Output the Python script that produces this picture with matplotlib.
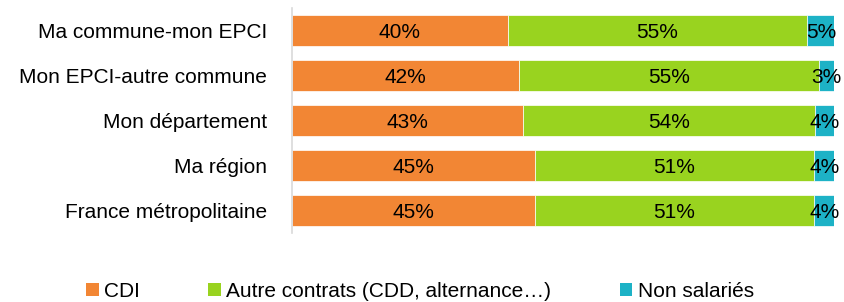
import numpy as np
import matplotlib.pyplot as plt
from matplotlib.patches import Patch

categories = ['Ma commune-mon EPCI', 'Mon EPCI-autre commune', 'Mon département',
              'Ma région', 'France métropolitaine']
cdi = [39.8, 41.8, 42.6, 44.8, 44.8]
autres = [55.2, 55.4, 53.8, 51.4, 51.4]
non_sal = [5.0, 2.8, 3.6, 3.8, 3.8]
series_names = ['CDI', 'Autre contrats (CDD, alternance…)', 'Non salariés']
colors = ['#F28634', '#99D31F', '#1DB2C6']

plt.rcParams['font.family'] = ['Liberation Sans', 'DejaVu Sans']
fs = 15

fig = plt.figure(figsize=(8.45, 3.02), dpi=100)
ax = fig.add_axes([0.3455, 0.228, 0.642, 0.745])

y = np.arange(len(categories))
left = np.zeros(len(categories))
for vals, c in zip([cdi, autres, non_sal], colors):
    vals = np.array(vals)
    ax.barh(y, vals, left=left, height=0.69, color=c, edgecolor='white', linewidth=0.5)
    for yi, l, v in zip(y, left, vals):
        ax.text(l + v / 2, yi, '%d%%' % round(v), ha='center', va='center_baseline',
                fontsize=fs, color='black')
    left += vals

ax.set_xlim(0, 100)
ax.set_ylim(len(categories) - 0.5, -0.5)
ax.set_yticks(y)
ax.set_yticklabels(categories, fontsize=fs)
ax.tick_params(axis='y', length=0, pad=18)
ax.set_xticks([])
for s in ['top', 'right', 'bottom']:
    ax.spines[s].set_visible(False)
ax.spines['left'].set_color('#D9D9D9')
ax.spines['left'].set_linewidth(1.2)

handles = [Patch(facecolor=c, label=n) for c, n in zip(colors, series_names)]
fig.legend(handles=handles, loc='center', bbox_to_anchor=(0.497, 0.035), ncol=3,
           frameon=False, fontsize=fs, handlelength=0.6, handleheight=0.6,
           handletextpad=0.25, columnspacing=3.3)

fig.savefig('out.png', dpi=100)
